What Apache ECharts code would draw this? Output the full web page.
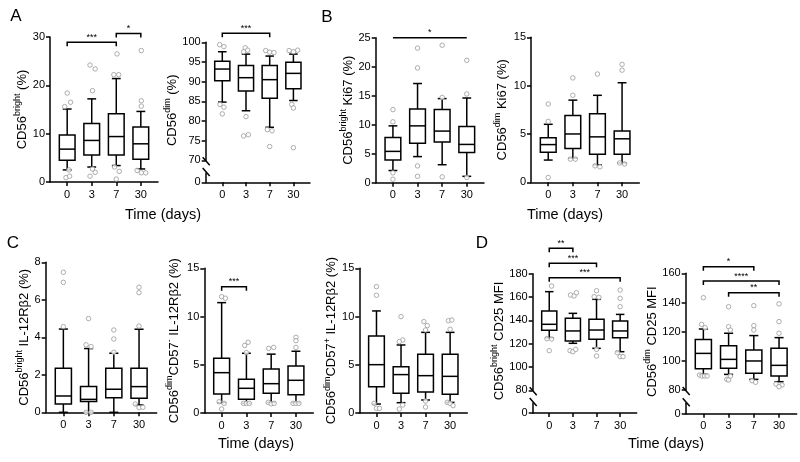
<!DOCTYPE html>
<html><head><meta charset="utf-8">
<script src="https://cdn.jsdelivr.net/npm/echarts@6/dist/echarts.min.js"></script>
<style>html,body{margin:0;padding:0;background:#fff}#c{width:800px;height:462px}</style>
</head><body><div id="c"></div><script>
const FONT = '"Liberation Sans", Arial, sans-serif';
const CATS = ['0', '3', '7', '30'];

// ---- data: box = [low whisker, Q1, median, Q3, high whisker] per time point ----
const A1_boxes = [[2.5,4.5,6.8,9.7,15.1],[3.1,5.6,8.6,12.1,17.2],[3.4,5.6,9.4,14.1,21.4],[2.7,4.7,7.9,11.4,14.6]];
const A1_out = [[0,18.4],[0.14,16.5],[-0.1,15.6],[0.07,2.5],[-0.05,0.9],[0.1,1.2],
  [0.93,24.2],[1.14,23.4],[1.03,18.9],[1.03,2.7],[1.14,2.0],[0.93,1.2],
  [2.03,26.5],[1.9,22.2],[2.1,22.2],[1.93,3.1],[2.12,2.2],[2,0.6],
  [3.02,27.2],[3.02,16.8],[3.02,15.7],[2.85,2.4],[3.02,1.9],[3.2,1.9]];
const A1_sig = [[0,2,28.9],[2,3,30.7]];
const A1_sigLabels = ['***','*'];

const A2_boxes = [[84.8,90.2,93.2,95.2,97.6],[82.6,87.6,91.0,94.1,97.0],[78.4,85.8,90.5,94.1,96.5],[85.2,88.2,92.1,94.9,97.0]];
const A2_out = [[-0.11,99.4],[0.07,98.9],[-0.1,84.2],[0.07,83.5],[0,81.8],
  [0.97,98.6],[1.07,98.0],[0.9,97.6],[1,81.1],[0.9,76.2],[1.1,76.5],
  [1.83,97.9],[2,97.5],[2.18,97.4],[1.9,77.8],[2.1,77.5],[2,73.5],
  [2.82,97.9],[3,97.6],[3.18,98.0],[2.93,84.2],[3,83.3],[3,73.2]];
const A2_sig = [[0,2,102.3]];
const A2_sigLabels = ['***'];

const B1_boxes = [[2.1,3.9,5.4,7.8,9.8],[4.5,6.8,9.8,12.7,17.1],[3.1,7.0,8.9,12.6,14.5],[1.1,5.2,6.6,9.7,14.6]];
const B1_out = [[0,12.6],[0,10.5],[0,1.7],[0,0.6],[1,23.2],[1,19.8],[1,2.9],[1,1.1],
  [2,23.7],[2,14.7],[2,1.0],[3,21.1],[3,15.3],[3,0.9]];
const B1_sig = [[0,3,25]];
const B1_sigLabels = ['*'];

const B2_boxes = [[2.3,3.1,3.9,4.6,6.0],[2.5,3.5,5.0,6.9,8.5],[1.8,2.9,4.7,7.1,9.0],[2.0,2.9,4.5,5.3,10.3]];
const B2_out = [[0,8.1],[0,6.3],[0,0.5],[1,10.8],[1,9.0],[0.9,2.4],[1.1,2.4],
  [2,11.2],[1.9,1.7],[2.1,1.6],[3,12.2],[3,11.6],[2.9,2.0],[3.1,1.9]];
const B2_sig = [];
const B2_sigLabels = [];

const C1_boxes = [[0,0.44,0.87,2.35,4.44],[0,0.57,0.69,1.37,3.4],[0,0.78,1.23,2.35,3.15],[0.39,0.75,1.37,2.35,4.43]];
const C1_out = [[0,7.47],[0,6.93],[0,4.57],[1,5.0],[0.9,3.6],[1.1,3.5],[0.9,0],[1.1,0],
  [2,4.39],[2,3.91],[2,3.2],[3,6.67],[3,6.38],[3,4.6],[2.85,0.44],[3,0.25],[3.15,0.27]];
const C1_sig = [];
const C1_sigLabels = [];

const C2_boxes = [[1.07,1.97,4.18,5.67,11.44],[1.0,1.42,2.56,3.49,6.19],[1.1,2.04,3.04,4.56,6.1],[1.07,1.9,3.39,4.87,6.4]];
const C2_out = [[0,12.06],[0.15,11.9],[-0.1,1.17],[0.1,1.0],[0,0.41],
  [1.07,7.33],[0.93,7.0],[1,6.26],[0.88,1.0],[1,1.0],[1.12,1.0],
  [1.9,6.7],[2.1,6.8],[1.88,1.1],[2,0.95],[2.12,1.0],
  [3,7.85],[3,7.5],[3,6.8],[2.88,1.0],[3,1.0],[3.12,1.0]];
const C2_sig = [[0,1,13.1]];
const C2_sigLabels = ['***'];

const C3_boxes = [[0.93,2.73,5.01,7.98,10.58],[1.07,2.05,3.98,4.8,7.05],[1.35,2.18,3.87,6.08,8.36],[1.1,1.94,3.8,6.08,8.36]];
const C3_out = [[0,13.1],[0,12.2],[-0.1,1.0],[0,0.48],[0.12,0.48],
  [1,9.99],[1.07,7.57],[0.93,7.4],[1.07,0.83],[0.93,0.41],
  [1.93,9.47],[2.07,9.06],[2,8.6],[2,1.24],[2,0.62],
  [2.93,9.57],[3.07,9.64],[3,8.68],[2.88,1.1],[3,1.0],[3.12,0.76]];
const C3_sig = [];
const C3_sigLabels = [];

const D1_boxes = [[125.1,131.4,136.6,148,164.6],[120.3,122.3,130.9,141.7,146],[116,123.7,131.7,140.9,158],[113.1,125.1,130.9,139.4,145.1]];
const D1_out = [[0.1,169.4],[-0.1,124.3],[0.1,124],[0,114],
  [0.9,161.7],[1.05,160.9],[1.15,163.7],[0.88,114],[1,113.1],[1.12,115.1],
  [2,165.4],[1.9,160.3],[2.1,159.7],[2,115.1],[2,109.4],
  [3,166],[3,158.9],[3,151.7],[2.88,112.3],[3,108.9],[3.12,108.9]];
const D1_sig = [[0,1,201.8],[0,2,188.9],[0,3,176.6]];
const D1_sigLabels = ['**','***','***'];

const D2_boxes = [[90.7,94.6,105.1,114.7,121.8],[90.7,94.9,101,110.4,118.9],[87.3,91.4,99.9,107.4,117.3],[85.7,89.6,96.9,108.6,115.9]];
const D2_out = [[0,143.3],[-0.07,125],[0.07,122.7],[-0.15,90.3],[-0.05,89.6],[0.05,89.6],[0.15,89.6],
  [1,137.1],[1,123.4],[1.07,121.1],[1.07,89.6],[0.93,87.3],[1,86.9],
  [2,137.8],[2,124.1],[2,121.1],[1.93,86.4],[2.07,85.3],
  [3,139],[3,126.9],[3,118.9],[2.88,84.1],[3.12,83.4],[3,82.3]];
const D2_sig = [[0,2,164.5],[0,3,154.7],[1,3,146.7]];
const D2_sigLabels = ['*','****','**'];

// ---- panel definitions (layout + axis ranges) ----
const PANELS = [
  {boxes:A1_boxes,out:A1_out,sig:A1_sig,sigL:A1_sigLabels,ticks:true,yMin:0,yMax:30,yInt:10,
   title:[['CD56','m'],['bright','s'],[' (%)','m']], x0:50,x1:158,yTop:37,yBot:182,nameGap:15},
  {boxes:A2_boxes,out:A2_out,sig:A2_sig,sigL:A2_sigLabels,ticks:true,yMin:70,yMax:100,yInt:5,
   title:[['CD56','m'],['dim','s'],[' (%)','m']], x0:205.7,x1:310,yTop:42.3,yBreak:160.3,yLowTop:173,yBot:182.3,nameGap:17,nameShift:18},
  {boxes:B1_boxes,out:B1_out,sig:B1_sig,sigL:B1_sigLabels,ticks:false,yMin:0,yMax:25,yInt:5,
   title:[['CD56','m'],['bright','s'],[' Ki67 (%)','m']], x0:375.7,x1:484,yTop:37.7,yBot:182.7,nameGap:16},
  {boxes:B2_boxes,out:B2_out,sig:B2_sig,sigL:B2_sigLabels,ticks:true,yMin:0,yMax:15,yInt:5,
   title:[['CD56','m'],['dim','s'],[' Ki67 (%)','m']], x0:531,x1:639.3,yTop:37.3,yBot:182.3,nameGap:20},
  {boxes:C1_boxes,out:C1_out,sig:C1_sig,sigL:C1_sigLabels,ticks:true,yMin:0,yMax:8,yInt:2,
   title:[['CD56','m'],['bright','s'],[' IL-12Rβ2 (%)','m']], x0:45.7,x1:156.7,yTop:262.3,yBot:412.3,nameGap:12},
  {boxes:C2_boxes,out:C2_out,sig:C2_sig,sigL:C2_sigLabels,ticks:true,yMin:0,yMax:15,yInt:5,
   title:[['CD56','m'],['dim','s'],['CD57','m'],['-','s'],[' IL-12Rβ2 (%)','m']], x0:204.3,x1:313.3,yTop:268.3,yBot:413,nameGap:21},
  {boxes:C3_boxes,out:C3_out,sig:C3_sig,sigL:C3_sigLabels,ticks:true,yMin:0,yMax:15,yInt:5,
   title:[['CD56','m'],['dim','s'],['CD57','m'],['+','s'],[' IL-12Rβ2 (%)','m']], x0:359.3,x1:467.3,yTop:268.3,yBot:413,nameGap:18},
  {boxes:D1_boxes,out:D1_out,sig:D1_sig,sigL:D1_sigLabels,ticks:true,yMin:80,yMax:180,yInt:20,
   title:[['CD56','m'],['bright','s'],[' CD25 MFI','m']], x0:532.7,x1:636.7,yTop:273.7,yBreak:390.3,yLowTop:403,yBot:413,nameGap:18,nameShift:18},
  {boxes:D2_boxes,out:D2_out,sig:D2_sig,sigL:D2_sigLabels,ticks:true,yMin:80,yMax:160,yInt:20,
   title:[['CD56','m'],['dim','s'],[' CD25 MFI','m']], x0:685.7,x1:796.7,yTop:273.3,yBreak:390,yLowTop:403.3,yBot:413.7,nameGap:22,nameShift:20}
];

const X_MIN = -0.7, X_MAX = 3.7, BOX_W = 0.64, CAP_W = 0.36;
const LINE = {color:'#000', width:1.5};
const RICH = {
  m:{fontSize:13, fontFamily:FONT, color:'#000'},
  s:{fontSize:9, fontFamily:FONT, color:'#000', padding:[0,0,9,0]}
};

function xAxisCfg(gi, visible){
  return {type:'value', gridIndex:gi, min:X_MIN, max:X_MAX, show:visible,
    axisLine:{show:true, onZero:false, lineStyle:LINE},
    axisTick:{show:true, customValues:[0,1,2,3], length:4, lineStyle:LINE},
    axisLabel:{show:true, customValues:[0,1,2,3], margin:7, fontSize:11, color:'#000', fontFamily:FONT,
      formatter:v => { const i=Math.round(v); return Math.abs(v-i)<1e-6 && CATS[i]!==undefined ? CATS[i] : ''; }},
    splitLine:{show:false}};
}
function yAxisCfg(gi, p){
  const name = p.title.map(t => '{'+t[1]+'|'+t[0]+'}').join('');
  return {type:'value', gridIndex:gi, min:p.yMin, max:p.yMax, interval:p.yInt,
    axisLine:{show:true, onZero:false, lineStyle:LINE},
    axisTick:{show:true, length:4, lineStyle:LINE},
    axisLabel:{margin:5, fontSize:11, color:'#000', fontFamily:FONT},
    splitLine:{show:false},
    name:name, nameLocation:'middle', nameRotate:90, nameGap:p.nameGap,
    nameTextStyle:{rich:RICH, padding:[0, p.nameShift||0, 0, 0]}};
}
function lowYAxisCfg(gi){
  return {type:'value', gridIndex:gi, min:0, max:1,
    axisLine:{show:true, onZero:false, lineStyle:LINE},
    axisTick:{show:true, length:4, customValues:[0], lineStyle:LINE},
    axisLabel:{margin:5, fontSize:11, color:'#000', fontFamily:FONT, customValues:[0],
      formatter:v => v===0 ? '0' : ''},
    splitLine:{show:false}};
}

function renderBox(params, api){
  const x = api.value(0);
  const lo = api.coord([x, api.value(1)]);
  const q1 = api.coord([x, api.value(2)]);
  const md = api.coord([x, api.value(3)]);
  const q3 = api.coord([x, api.value(4)]);
  const hi = api.coord([x, api.value(5)]);
  const w = api.size([BOX_W, 0])[0];
  const cw = api.size([CAP_W, 0])[0];
  const cx = lo[0];
  const st = {stroke:'#000', lineWidth:1.5, fill:null};
  return {type:'group', children:[
    {type:'line', shape:{x1:cx,y1:hi[1],x2:cx,y2:q3[1]}, style:st},
    {type:'line', shape:{x1:cx,y1:q1[1],x2:cx,y2:lo[1]}, style:st},
    {type:'line', shape:{x1:cx-cw/2,y1:hi[1],x2:cx+cw/2,y2:hi[1]}, style:st},
    {type:'line', shape:{x1:cx-cw/2,y1:lo[1],x2:cx+cw/2,y2:lo[1]}, style:st},
    {type:'rect', shape:{x:cx-w/2,y:q3[1],width:w,height:q1[1]-q3[1]}, style:{fill:'#fff',stroke:'#000',lineWidth:1.5}},
    {type:'line', shape:{x1:cx-w/2,y1:md[1],x2:cx+w/2,y2:md[1]}, style:st}
  ]};
}
function makeSigRender(labels, ticks){
  return function(params, api){
    const a = api.coord([api.value(0), api.value(2)]);
    const b = api.coord([api.value(1), api.value(2)]);
    const t = ticks ? 4 : 0;
    const pts = ticks ? [[a[0],a[1]+t],[a[0],a[1]],[b[0],b[1]],[b[0],b[1]+t]] : [[a[0],a[1]],[b[0],b[1]]];
    return {type:'group', children:[
      {type:'polyline', shape:{points:pts}, style:{stroke:'#000', lineWidth:1.5, fill:null}},
      {type:'text', x:(a[0]+b[0])/2, y:a[1]-0.5, style:{text:labels[params.dataIndex], font:'9px '+FONT, fill:'#000',
        align:'center', verticalAlign:'bottom', textAlign:'center', textVerticalAlign:'bottom'}}
    ]};
  };
}
function renderBreakTop(params, api){
  const p = api.coord([api.value(0), api.value(1)]);
  return {type:'line', shape:{x1:p[0]-3,y1:p[1]-3,x2:p[0]+4,y2:p[1]+5}, style:{stroke:'#000', lineWidth:1.5}};
}
function renderBreakLow(params, api){
  const p = api.coord([api.value(0), api.value(1)]);
  return {type:'line', shape:{x1:p[0]-3,y1:p[1]-5,x2:p[0]+4,y2:p[1]+3}, style:{stroke:'#000', lineWidth:1.5}};
}

const grids=[], xAxes=[], yAxes=[], series=[];
PANELS.forEach(p => {
  const hasBreak = p.yBreak !== undefined;
  const gi = grids.length;
  const mainBot = hasBreak ? p.yBreak : p.yBot;
  grids.push({left:p.x0, top:p.yTop, width:p.x1-p.x0, height:mainBot-p.yTop, containLabel:false, outerBoundsMode:'none'});
  xAxes.push(xAxisCfg(gi, !hasBreak));
  yAxes.push(yAxisCfg(gi, p));
  series.push({type:'custom', xAxisIndex:gi, yAxisIndex:gi, renderItem:renderBox, clip:false, z:2,
    encode:{x:0, y:[1,2,3,4,5]}, data:p.boxes.map((b,i)=>[i].concat(b)), silent:true});
  series.push({type:'scatter', xAxisIndex:gi, yAxisIndex:gi, data:p.out, symbol:'circle', symbolSize:4.5, z:3,
    itemStyle:{color:'#fff', borderColor:'#9a9a9a', borderWidth:1}, silent:true, clip:false});
  if (p.sig.length){
    series.push({type:'custom', xAxisIndex:gi, yAxisIndex:gi, renderItem:makeSigRender(p.sigL, p.ticks), clip:false, z:4,
      encode:{x:[0,1], y:2}, data:p.sig, silent:true});
  }
  if (hasBreak){
    const li = grids.length;
    grids.push({left:p.x0, top:p.yLowTop, width:p.x1-p.x0, height:p.yBot-p.yLowTop, containLabel:false, outerBoundsMode:'none'});
    xAxes.push(xAxisCfg(li, true));
    yAxes.push(lowYAxisCfg(li));
    series.push({type:'custom', xAxisIndex:gi, yAxisIndex:gi, renderItem:renderBreakTop, clip:false, z:5,
      encode:{x:0, y:1}, data:[[X_MIN, p.yMin]], silent:true});
    series.push({type:'custom', xAxisIndex:li, yAxisIndex:li, renderItem:renderBreakLow, clip:false, z:5,
      encode:{x:0, y:1}, data:[[X_MIN, 1]], silent:true});
  }
});

function txt(t, x, y, size){
  return {type:'text', x:x, y:y, style:{text:t, font:size+'px '+FONT, fill:'#000',
    align:'center', verticalAlign:'middle', textAlign:'center', textVerticalAlign:'middle'}};
}
const graphics = [
  txt('A',16,16.5,17), txt('B',327,17.5,17), txt('C',13,243.5,17), txt('D',482,243,17),
  txt('Time (days)',163,215,14.5), txt('Time (days)',565,215,14.5),
  txt('Time (days)',256,444,14.5), txt('Time (days)',666,444,14.5)
];

const chart = echarts.init(document.getElementById('c'), null, {renderer:'canvas'});
chart.setOption({
  animation:false, backgroundColor:'#fff',
  grid:grids, xAxis:xAxes, yAxis:yAxes, series:series, graphic:graphics
});
</script></body></html>
